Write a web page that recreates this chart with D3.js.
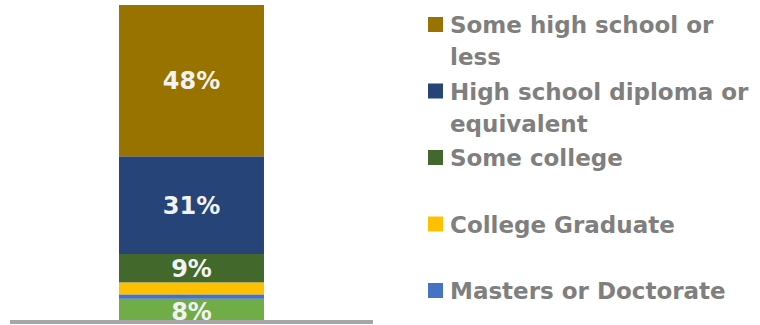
<!DOCTYPE html>
<html>
<head>
<meta charset="utf-8">
<script src="https://cdn.jsdelivr.net/npm/d3@7"></script>
<style>
  body { margin: 0; background: #fff; }
  svg { display: block; }
</style>
</head>
<body>
<svg id="chart" width="760" height="325"></svg>
<script>
// Education level breakdown (percent), bottom to top in the stack
const categories = [
  "Other",
  "Masters or Doctorate",
  "College Graduate",
  "Some college",
  "High school diploma or equivalent",
  "Some high school or less"
];
const values = [8, 1.4, 3.8, 9, 31, 48];
const colors = ["#70AD47", "#4472C4", "#FFC000", "#43682B", "#264478", "#997300"];

// legend reads top to bottom, text wrapped as in the original
// (the bottom segment's entry falls below the visible area)
const legendItems = [
  { name: "Some high school or less", lines: ["Some high school or", "less"] },
  { name: "High school diploma or equivalent", lines: ["High school diploma or", "equivalent"] },
  { name: "Some college", lines: ["Some college"] },
  { name: "College Graduate", lines: ["College Graduate"] },
  { name: "Masters or Doctorate", lines: ["Masters or Doctorate"] }
];

const svg = d3.select("#chart");
const fontFamily = "'DejaVu Sans', sans-serif";

const plot = { left: 10, right: 373, top: 5, bottom: 324 };

// stack the single bar
let acc = 0;
const segments = categories.map((c, i) => {
  const s = { name: c, value: values[i], y0: acc, y1: acc + values[i], color: colors[i] };
  acc += values[i];
  return s;
});

const y = d3.scaleLinear()
  .domain([0, d3.sum(values)])
  .range([plot.bottom, plot.top]);

const x = d3.scaleBand()
  .domain(["all"])
  .range([plot.left, plot.right])
  .paddingInner(0)
  .paddingOuter(0.752);

const g = svg.append("g");

g.selectAll("rect.seg")
  .data(segments)
  .enter()
  .append("rect")
  .attr("class", "seg")
  .attr("x", x("all"))
  .attr("width", x.bandwidth())
  .attr("y", d => y(d.y1))
  .attr("height", d => y(d.y0) - y(d.y1))
  .attr("fill", d => d.color);

// data labels, only on the larger segments
g.selectAll("text.lbl")
  .data(segments.filter(d => d.value >= 5))
  .enter()
  .append("text")
  .attr("class", "lbl")
  .attr("x", x("all") + x.bandwidth() / 2)
  .attr("y", d => (y(d.y0) + y(d.y1)) / 2)
  .attr("dy", "0.36em")
  .attr("text-anchor", "middle")
  .attr("fill", "#F2F2F2")
  .style("font-family", fontFamily)
  .style("font-weight", "bold")
  .style("font-size", "24px")
  .text(d => Math.round(d.value) + "%");

// category axis line
svg.append("line")
  .attr("x1", plot.left)
  .attr("x2", plot.right)
  .attr("y1", y(0) - 2)
  .attr("y2", y(0) - 2)
  .attr("stroke", "#A6A6A6")
  .attr("stroke-width", 4);

// legend
const colorOf = d3.scaleOrdinal().domain(categories).range(colors);
const legend = svg.append("g").attr("transform", "translate(428,17)");
const item = legend.selectAll("g.item")
  .data(legendItems)
  .enter()
  .append("g")
  .attr("class", "item")
  .attr("transform", (d, i) => `translate(0,${i * 66.5})`);

item.append("rect")
  .attr("width", 15)
  .attr("height", 15)
  .attr("fill", d => colorOf(d.name));

item.selectAll("text")
  .data(d => d.lines)
  .enter()
  .append("text")
  .attr("x", 22)
  .attr("y", (d, i) => 16 + i * 32)
  .attr("fill", "#7F7F7F")
  .style("font-family", fontFamily)
  .style("font-weight", "bold")
  .style("font-size", "23px")
  .text(d => d);
</script>
</body>
</html>
